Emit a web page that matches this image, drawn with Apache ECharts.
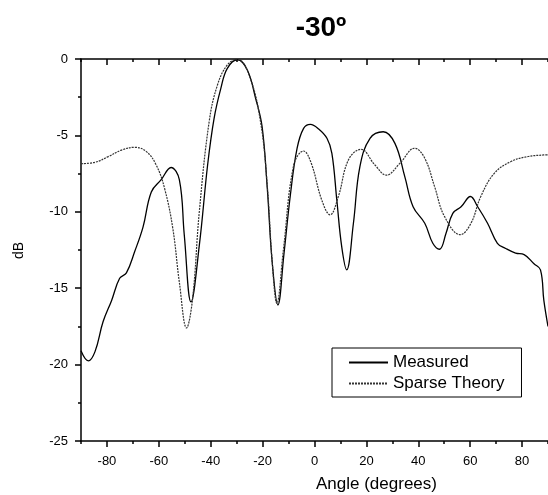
<!DOCTYPE html>
<html>
<head>
<meta charset="utf-8">
<script src="https://cdn.jsdelivr.net/npm/echarts@6/dist/echarts.min.js"></script>
<style>
  html, body { margin: 0; padding: 0; background: #fff; }
  #main { width: 548px; height: 495px; }
</style>
</head>
<body>
<div id="main"></div>
<script>
// values (angle in degrees, level in dB)
var measuredAngle = [-90, -87.2, -84.6, -81.5, -78.2, -75.1, -72.5, -69.3, -66.1, -62.9, -59.1, -55.3, -52.1, -50.2, -47.6, -44.4, -41.2, -38.7, -36.1, -33.6, -29.7, -25.9, -22.7, -20.2, -18.2, -16.3, -14.1, -11.8, -9.3, -6.7, -4.2, -1.6, 1.6, 4.8, 6.7, 8.6, 10.5, 12.4, 15.0, 17.5, 21.4, 26.5, 31.0, 34.8, 38.0, 42.5, 45.6, 48.2, 50.7, 53.3, 56.5, 60.1, 62.9, 66.7, 70.5, 73.7, 77.5, 80.8, 84.6, 87.1, 88.4, 90];
var measuredDb = [-19.1, -19.76, -19.15, -17.2, -15.8, -14.35, -14.0, -12.6, -11.0, -8.7, -7.9, -7.1, -7.9, -11.5, -15.9, -12.2, -6.94, -3.88, -1.92, -0.61, -0.05, -0.72, -2.57, -4.43, -8.46, -13.3, -16.1, -12.8, -8.9, -5.84, -4.54, -4.28, -4.58, -5.19, -6.17, -9.23, -12.3, -13.8, -10.75, -7.05, -5.19, -4.76, -5.52, -7.7, -9.67, -10.75, -12.06, -12.45, -11.4, -10.1, -9.67, -9.0, -9.67, -10.75, -12.06, -12.4, -12.7, -12.8, -13.4, -13.8, -15.8, -17.5];

var theoryAngle = [-90, -84.6, -79.5, -74.4, -69.3, -64.8, -61.0, -57.8, -54.6, -52.1, -49.3, -47.0, -44.4, -40.6, -37.4, -33.6, -29.7, -25.2, -20.8, -18.2, -16.3, -14.5, -12.0, -8.0, -4.2, -1.3, 2.8, 6.0, 9.2, 13.1, 17.9, 23.3, 27.7, 32.9, 38.6, 42.5, 46.3, 50.1, 56.2, 60.3, 64.1, 69.3, 75.6, 82.0, 88.4, 90];
var theoryDb = [-6.85, -6.76, -6.39, -5.96, -5.78, -6.06, -6.94, -8.46, -11.1, -14.6, -17.6, -15.7, -10.0, -4.1, -1.7, -0.39, 0, -1.05, -4.1, -8.3, -13.3, -16.0, -12.5, -6.94, -6.02, -6.8, -9.23, -10.2, -9.0, -6.6, -5.91, -6.94, -7.6, -6.83, -5.84, -6.5, -8.36, -10.3, -11.5, -10.75, -9.0, -7.48, -6.72, -6.39, -6.28, -6.27];

var xMajor = [-80, -60, -40, -20, 0, 20, 40, 60, 80];
var xMinor = [-90, -70, -50, -30, -10, 10, 30, 50, 70, 90];
var yMajor = [-25, -20, -15, -10, -5, 0];
var yMinor = [-22.5, -17.5, -12.5, -7.5, -2.5];

var font = "'Liberation Sans', Arial, sans-serif";

function pairs(xs, ys) {
  return xs.map(function (x, i) { return [x, ys[i]]; });
}

var chart = echarts.init(document.getElementById("main"));

function xAx(position, ticks, len, inside, showLine, showLabel) {
  return {
    type: "value",
    position: position,
    min: -90,
    max: 90,
    interval: 10,
    axisLine: { show: showLine, onZero: false, lineStyle: { color: "#000", width: 1.5 } },
    axisTick: { show: true, inside: inside, length: len, customValues: ticks, lineStyle: { color: "#000", width: 1.5 } },
    axisLabel: {
      show: showLabel,
      customValues: xMajor,
      margin: 14,
      color: "#000",
      fontSize: 13,
      fontFamily: font
    },
    splitLine: { show: false }
  };
}

function yAx(ticks, len, showLine, showLabel) {
  return {
    type: "value",
    position: "left",
    min: -25,
    max: 0,
    interval: 5,
    axisLine: { show: showLine, onZero: false, lineStyle: { color: "#000", width: 1.5 } },
    axisTick: { show: true, length: len, customValues: ticks, lineStyle: { color: "#000", width: 1.5 } },
    axisLabel: {
      show: showLabel,
      customValues: yMajor,
      margin: 13,
      color: "#000",
      fontSize: 13,
      fontFamily: font
    },
    splitLine: { show: false }
  };
}

var option = {
  animation: false,
  backgroundColor: "#fff",
  title: {
    text: "-30º",
    left: 316,
    top: 9,
    textAlign: "center",
    textStyle: { fontSize: 28, fontWeight: "bold", color: "#000", fontFamily: font }
  },
  grid: { left: 81, top: 59, width: 470, height: 382 },
  xAxis: [
    xAx("bottom", xMajor, 6, false, true, true),
    xAx("bottom", xMinor, 3, false, false, false),
    xAx("top", xMajor, 6, true, true, false),
    xAx("top", xMinor, 3, true, false, false)
  ],
  yAxis: [
    yAx(yMajor, 6, true, true),
    yAx(yMinor, 3, false, false)
  ],
  legend: {
    orient: "vertical",
    left: 332,
    top: 348,
    backgroundColor: "#fff",
    borderColor: "#000",
    borderWidth: 1,
    borderRadius: 0,
    padding: [6, 17, 5, 16],
    itemWidth: 39,
    itemHeight: 10,
    itemGap: 4,
    itemStyle: { opacity: 0 },
    textStyle: { fontSize: 17, lineHeight: 17, color: "#000", fontFamily: font },
    data: ["Measured", "Sparse Theory"]
  },
  graphic: [
    {
      type: "text",
      left: 316,
      top: 476,
      style: { text: "Angle (degrees)", fontSize: 17, fontFamily: font, fill: "#000", textAlign: "center" }
    },
    {
      type: "text",
      x: 12,
      y: 259,
      rotation: Math.PI / 2,
      style: { text: "dB", fontSize: 14, fontFamily: font, fill: "#000" }
    }
  ],
  series: [
    {
      name: "Measured",
      type: "line",
      data: pairs(measuredAngle, measuredDb),
      smooth: 0.4,
      symbol: "none",
      clip: true,
      itemStyle: { color: "#000" },
      lineStyle: { color: "#000", width: 1.3, type: "solid" }
    },
    {
      name: "Sparse Theory",
      type: "line",
      data: pairs(theoryAngle, theoryDb),
      smooth: 0.4,
      symbol: "none",
      clip: true,
      itemStyle: { color: "#333" },
      lineStyle: { color: "#333", width: 1.2, type: [2, 1] }
    }
  ]
};

chart.setOption(option);
</script>
</body>
</html>
